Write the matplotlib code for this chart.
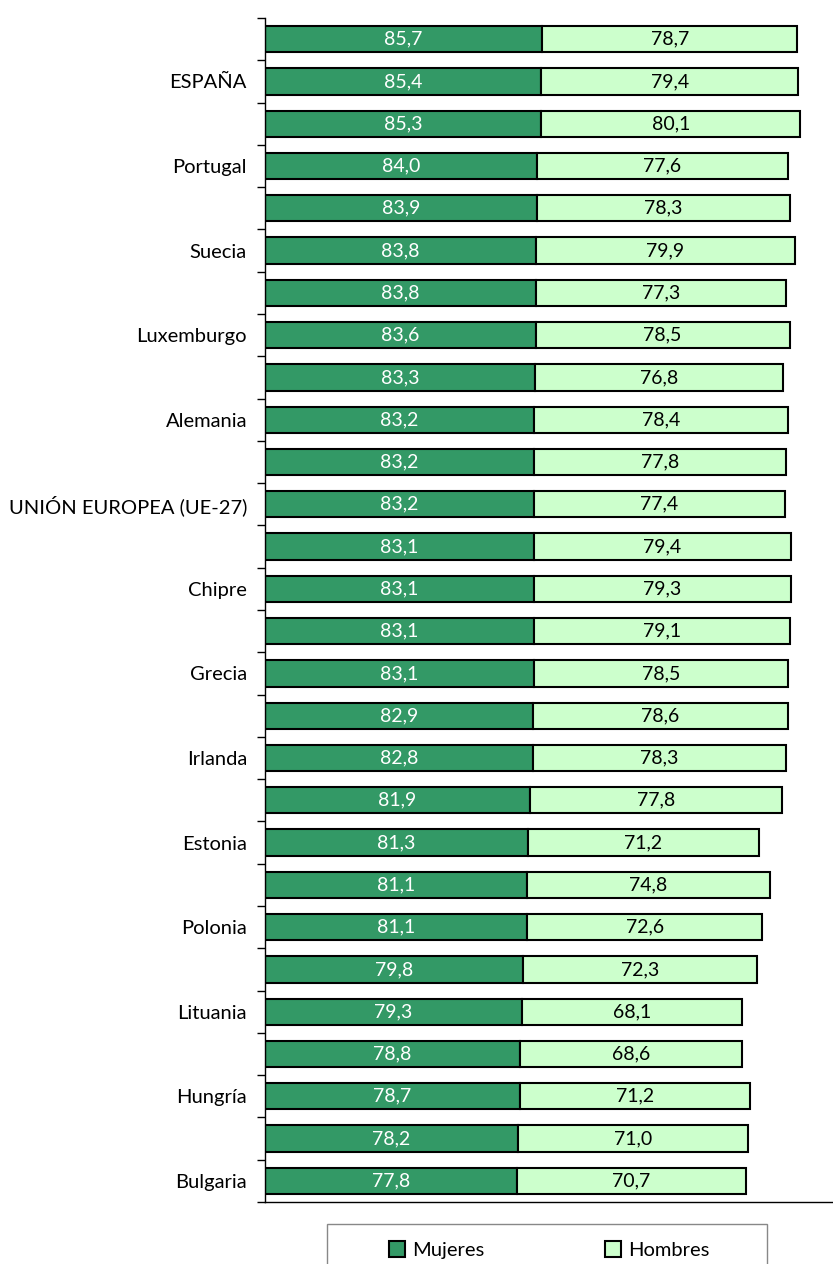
import matplotlib
matplotlib.use("Agg")
import matplotlib.pyplot as plt
from matplotlib.patches import Patch, Rectangle
import numpy as np

# datos
paises = ["", "ESPAÑA", "", "Portugal", "", "Suecia", "", "Luxemburgo", "", "Alemania",
          "", "UNIÓN EUROPEA (UE-27)", "", "Chipre", "", "Grecia", "", "Irlanda", "",
          "Estonia", "", "Polonia", "", "Lituania", "", "Hungría", "", "Bulgaria"]
mujeres = [85.7, 85.4, 85.3, 84.0, 83.9, 83.8, 83.8, 83.6, 83.3, 83.2, 83.2, 83.2, 83.1, 83.1,
           83.1, 83.1, 82.9, 82.8, 81.9, 81.3, 81.1, 81.1, 79.8, 79.3, 78.8, 78.7, 78.2, 77.8]
hombres = [78.7, 79.4, 80.1, 77.6, 78.3, 79.9, 77.3, 78.5, 76.8, 78.4, 77.8, 77.4, 79.4, 79.3,
           79.1, 78.5, 78.6, 78.3, 77.8, 71.2, 74.8, 72.6, 72.3, 68.1, 68.6, 71.2, 71.0, 70.7]
series = ["Mujeres", "Hombres"]

verde = "#339966"
verde_claro = "#CCFFCC"

plt.rcParams['font.family'] = ['Lato', 'DejaVu Sans']

W, H = 833, 1264
fig = plt.figure(figsize=(W / 100, H / 100), dpi=100)
ax = fig.add_axes([265 / W, 1 - 1202 / H, 1 - 265 / W, (1202 - 18) / H])

y = np.arange(len(paises))
ax.barh(y, mujeres, height=0.62, color=verde, edgecolor="black", linewidth=1.5)
ax.barh(y, hombres, left=mujeres, height=0.62, color=verde_claro, edgecolor="black", linewidth=1.5)

for i in range(len(paises)):
    m = mujeres[i]
    h = hombres[i]
    ax.text(m / 2, i, f"{m:.1f}".replace(".", ","), ha="center", va="center",
            color="white", fontsize=14)
    ax.text(m + h / 2, i, f"{h:.1f}".replace(".", ","), ha="center", va="center",
            color="black", fontsize=14)

ax.set_xlim(0, 175.5)
ax.set_ylim(len(paises) - 0.5, -0.5)
ax.set_xticks([])
ax.set_yticks(y)
ax.set_yticklabels(paises, fontsize=14.5)
ax.tick_params(axis="y", which="major", length=0, pad=13)
ax.set_yticks(np.arange(len(paises) + 1) - 0.5, minor=True)
ax.tick_params(axis="y", which="minor", length=6, width=1, color="black")
ax.spines["top"].set_visible(False)
ax.spines["right"].set_visible(False)
ax.spines["left"].set_linewidth(1)
ax.spines["bottom"].set_linewidth(1)

# leyenda: caja abajo, cortada por el borde de la imagen
handles = [Patch(facecolor=verde, edgecolor="black", linewidth=1.5),
           Patch(facecolor=verde_claro, edgecolor="black", linewidth=1.5)]
fig.legend(handles, series, loc="center", ncol=2,
           bbox_to_anchor=(549 / W, 1 - 1250 / H),
           fontsize=14.5, frameon=False, handlelength=0.8, handleheight=0.8,
           handletextpad=0.35, columnspacing=6.0, borderpad=0, borderaxespad=0)
caja = Rectangle((327 / W, -0.02), 440 / W, 0.02 + (H - 1224) / H,
                 transform=fig.transFigure, fill=False, edgecolor="#888888",
                 linewidth=1, clip_on=False)
fig.add_artist(caja)

fig.savefig("out.png", dpi=100)
